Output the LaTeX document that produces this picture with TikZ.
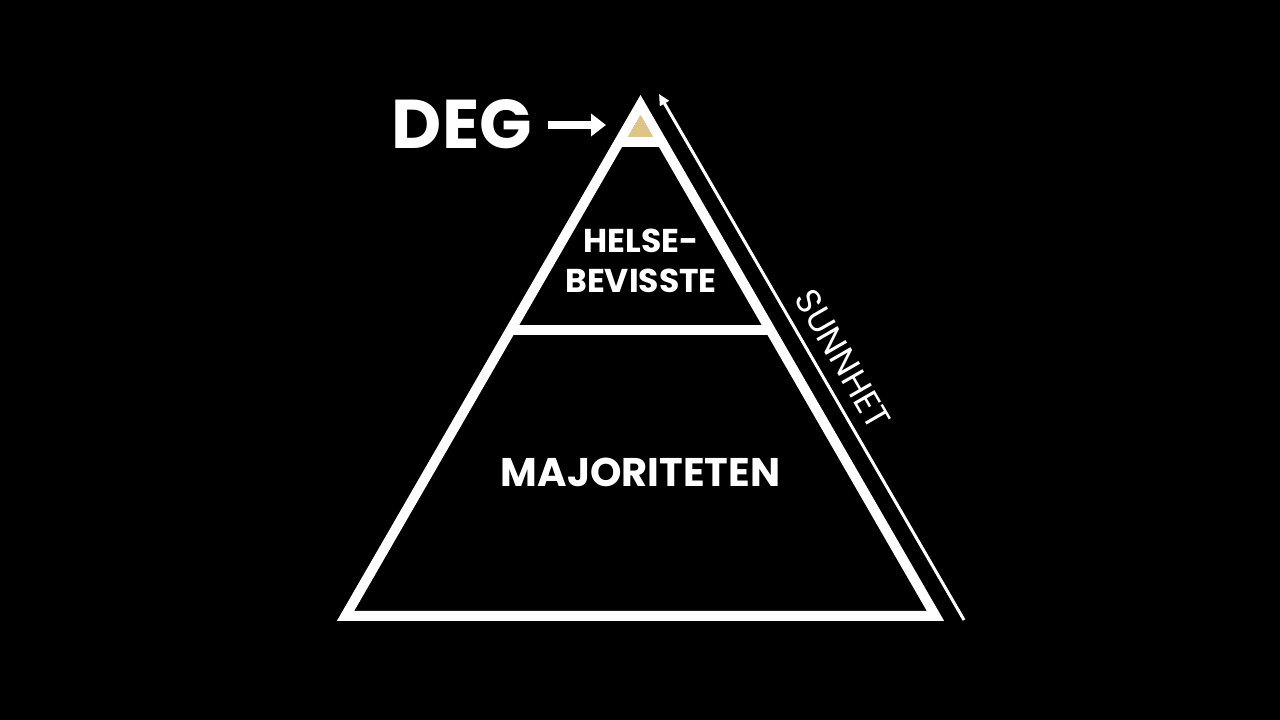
\documentclass[tikz,border=0pt]{standalone}
\usepackage{fontspec}
\setmainfont{Poppins}
\usepackage{tikz}
\usetikzlibrary{arrows.meta,positioning,calc}
\definecolor{tipgold}{RGB}{222,196,134}

\begin{document}
\begin{tikzpicture}[
    x=1pt, y=1pt,
    every node/.style={text=white, inner sep=0pt},
    side/.style={draw=white, line width=10pt, line join=miter},
    lvl/.style={font=\bfseries\fontsize{33}{39}\selectfont, anchor=base},
  ]
  \fill[black] (0,0) rectangle (1280,720);
  \useasboundingbox (0,0) rectangle (1280,720);
  % pyramid corners
  \coordinate (apex) at (640.5,615);
  \coordinate (lft) at (345.5,104);
  \coordinate (rgt) at (935.5,104);
  % gold tip
  \fill[tipgold] (640.5,605) -- (624.9,578) -- (656.1,578) -- cycle;
  \draw[side] (apex) -- (lft) -- (rgt) -- cycle;
  \draw[side] ($(apex)!37/511!(lft)$) -- ($(apex)!37/511!(rgt)$);
  \draw[side] ($(apex)!225/511!(lft)$) -- ($(apex)!225/511!(rgt)$);

  \node[lvl] (helse) at (641,467.3) {HELSE-};
  \node[lvl] (bevisste) at (641,427) {BEVISSTE};
  \node[font=\bfseries\fontsize{40}{48}\selectfont, anchor=base] (major) at (640.5,233) {MAJORITETEN};

  % you are here
  \node[font=\bfseries\fontsize{69}{80}\selectfont, anchor=base] (deg) at (462,571.7) {DEG};
  \coordinate (dstart) at (548,595);
  \coordinate (dtip) at (606,595);
  \draw[white, line width=8pt, -{Triangle[length=15pt,width=22pt]}] (dstart) -- (dtip);

  % health axis
  \coordinate (sbot) at (964,100);
  \coordinate (stop) at (659,626);
  \draw[white, line width=3pt, -{Triangle[length=11pt,width=10pt]}] (sbot) -- (stop);
  \node[font=\fontsize{35}{40}\selectfont, rotate=-60] (sunnhet) at (843,361) {SUNNHET};
\end{tikzpicture}
\end{document}
